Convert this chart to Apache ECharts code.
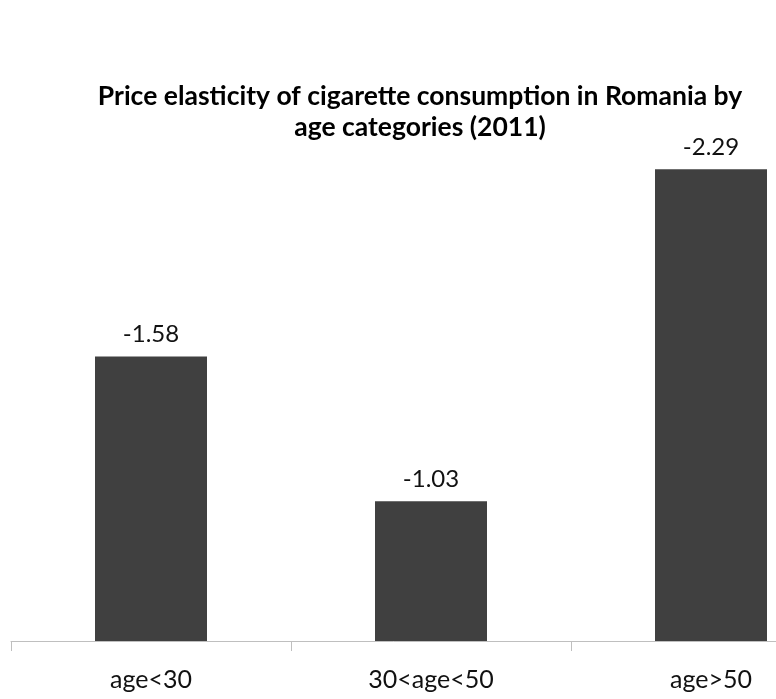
<!DOCTYPE html>
<html><head><meta charset="utf-8">
<script src="https://cdn.jsdelivr.net/npm/echarts@6/dist/echarts.min.js"></script>
<style>html,body{margin:0;padding:0;background:#fff}#c{width:776px;height:699px}</style>
</head><body><div id="c"></div>
<script>
const categories = ['age<30', '30<age<50', 'age>50'];
const elasticity = [-1.58, -1.03, -2.29];
const axisMin = 0.5, axisMax = 2.5;

const chart = echarts.init(document.getElementById('c'));
chart.setOption({
  animation: false,
  backgroundColor: '#ffffff',
  title: {
    text: 'Price elasticity of cigarette consumption in Romania by\nage categories (2011)',
    left: 415, top: 76, textAlign: 'center',
    textStyle: { fontFamily: 'Lato', fontWeight: 'bold', fontSize: 26.5, lineHeight: 31, color: '#000' }
  },
  grid: { left: 11, right: -75, top: 114, bottom: 58, containLabel: false, outerBoundsMode: 'none' },
  xAxis: {
    type: 'category', data: categories,
    axisLine: { lineStyle: { color: '#bfbfbf', width: 1 } },
    axisTick: { show: true, length: 10, alignWithLabel: false, lineStyle: { color: '#bfbfbf' } },
    axisLabel: { fontFamily: 'Lato', fontSize: 25, color: '#111', margin: 26 }
  },
  yAxis: { type: 'value', min: axisMin, max: axisMax, show: false, splitLine: { show: false } },
  series: [{
    type: 'bar', barWidth: '40%',
    data: elasticity.map(v => Math.abs(v)),
    itemStyle: { color: '#404040' },
    label: {
      show: true, position: 'top', distance: 10,
      fontFamily: 'Lato', fontSize: 24, color: '#111',
      formatter: p => elasticity[p.dataIndex].toFixed(2)
    }
  }]
});
</script></body></html>
